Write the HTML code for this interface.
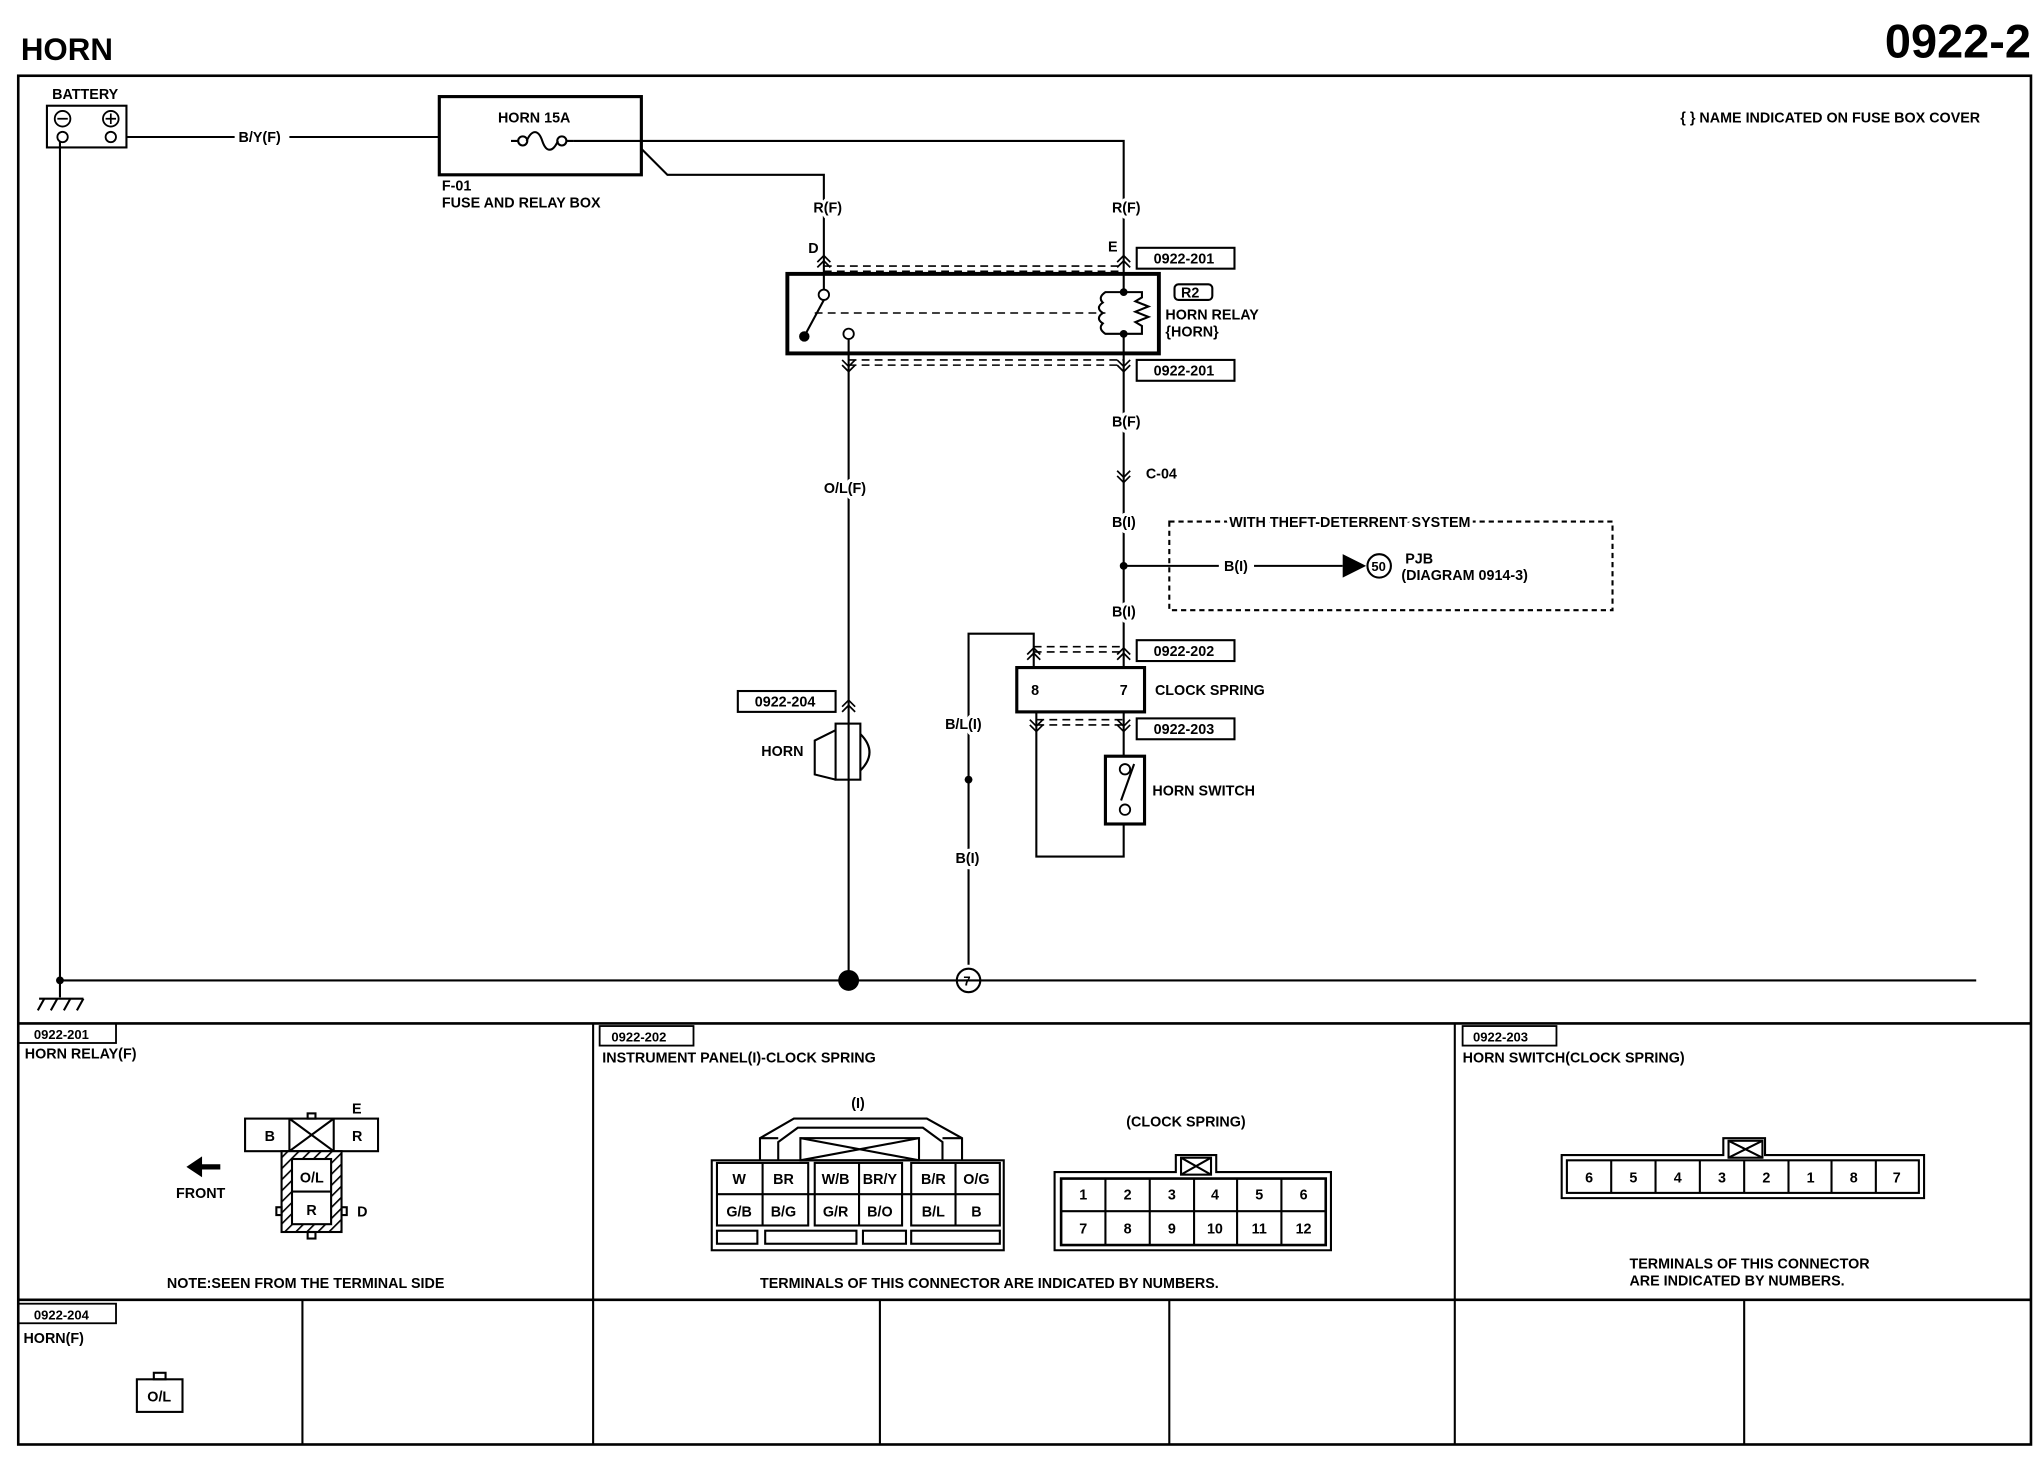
<!DOCTYPE html>
<html><head><meta charset="utf-8"><style>
html,body{margin:0;padding:0;background:#fff}
svg{display:block}
text{font-family:"Liberation Sans",sans-serif;font-weight:bold;fill:#000}
text.m{stroke:#fff;stroke-width:5px;paint-order:stroke;stroke-linejoin:round}
</style></head><body>
<svg width="2044" height="1472" viewBox="0 0 1568 1129" xmlns="http://www.w3.org/2000/svg">
<defs>
<g id="cu"><path d="M-5,5 L0,0 L5,5 M-5,9 L0,4 L5,9" fill="none" stroke="#000" stroke-width="1.3"/></g>
<g id="cd"><path d="M-5,-5 L0,0 L5,-5 M-5,-9 L0,-4 L5,-9" fill="none" stroke="#000" stroke-width="1.3"/></g>
<pattern id="hat" width="6" height="6" patternUnits="userSpaceOnUse" patternTransform="rotate(45)"><rect width="6" height="6" fill="#fff"/><line x1="0" y1="0" x2="0" y2="6" stroke="#000" stroke-width="2.5"/></pattern>
</defs>
<text x="16" y="46" font-size="24">HORN</text>
<text x="1558" y="44" font-size="36" text-anchor="end">0922-2</text>
<g fill="none" stroke="#000" stroke-width="1.6">
<rect x="14" y="58" width="1544" height="1050" stroke-width="2"/>
<line x1="14" y1="785" x2="1558" y2="785" stroke-width="2"/>
<line x1="14" y1="997" x2="1558" y2="997" stroke-width="2"/>
<line x1="455" y1="785" x2="455" y2="1108"/>
<line x1="1116" y1="785" x2="1116" y2="1108"/>
<line x1="232" y1="997" x2="232" y2="1108"/>
<line x1="675" y1="997" x2="675" y2="1108"/>
<line x1="897" y1="997" x2="897" y2="1108"/>
<line x1="1338" y1="997" x2="1338" y2="1108"/>
<line x1="46" y1="752" x2="1516" y2="752"/>
<line x1="46" y1="103" x2="46" y2="765"/>
<line x1="30" y1="766" x2="64" y2="766"/>
<path d="M34,766 l-5,9 M44,766 l-5,9 M54,766 l-5,9 M64,766 l-5,9"/>
<rect x="36" y="81" width="61" height="32"/>
<line x1="97" y1="105" x2="180" y2="105"/><line x1="222" y1="105" x2="337" y2="105"/>
<rect x="337" y="74" width="155" height="60" stroke-width="2.4"/>
<path d="M392,108 h6 M434,108 h6"/>
<circle cx="401" cy="108" r="3.5"/><circle cx="431" cy="108" r="3.5"/>
<path d="M404,108 c4,-9 9,-9 12,0 c3,9 8,9 12,0"/>
<path d="M440,108 H862 V210"/>
<path d="M492,114 L512,134 H632 V210"/>
<rect x="604" y="210" width="285" height="61" stroke-width="3"/>
<line x1="632" y1="210" x2="632" y2="222"/>
<line x1="632" y1="230" x2="618" y2="256"/>
<line x1="651" y1="260" x2="651" y2="271"/>
<line x1="862" y1="210" x2="862" y2="224"/>
<path d="M862,224 H876 l0,4 l-5,3 l10,4 l-10,4 l10,4 l-10,4 l5,3 V256 H862"/>
<path d="M862,224 H848 q-6,4 -2,8 q-6,4 0,8 q-6,4 0,8 q-4,4 2,8 H862"/>
<line x1="862" y1="256" x2="862" y2="271"/>
<path d="M632,204 H862 M632,208 H862 M651,276 H862 M651,280 H862 M625,240 H848" stroke-dasharray="6,4" stroke-width="1.2"/>
<rect x="872" y="190" width="75" height="16"/>
<rect x="872" y="276" width="75" height="16"/>
<rect x="901" y="218" width="29" height="12" rx="3"/>
<line x1="651" y1="271" x2="651" y2="752"/>
<line x1="862" y1="271" x2="862" y2="512"/>
<rect x="897" y="400" width="340" height="68" stroke-dasharray="4,3"/>
<line x1="862" y1="434" x2="935" y2="434"/><line x1="962" y1="434" x2="1030" y2="434"/>
<circle cx="1058" cy="434" r="9"/>
<rect x="780" y="512" width="98" height="34" stroke-width="2.4"/>
<path d="M793,496 H862 M793,500 H862 M795,552 H862 M795,556 H862" stroke-dasharray="6,4" stroke-width="1.2"/>
<rect x="872" y="491" width="75" height="16"/>
<rect x="872" y="551" width="75" height="16"/>
<path d="M743,740 V486 H793 V512"/>
<path d="M795,546 V657 H862 V632"/>
<line x1="862" y1="546" x2="862" y2="580"/>
<rect x="848" y="580" width="30" height="52" stroke-width="2.4"/>
<line x1="860" y1="614" x2="870" y2="586"/>
<circle cx="743" cy="752" r="9"/>
<rect x="566" y="530" width="75" height="16"/>
<rect x="641" y="555" width="19" height="43"/>
<path d="M641,560 L625,568 V594 L641,598"/>
<path d="M660,563 q14,14 0,28"/>
</g>
<g fill="#000">
<circle cx="46" cy="752" r="3"/><circle cx="651" cy="752" r="8"/>
<circle cx="617" cy="258" r="4"/><circle cx="862" cy="224" r="3"/><circle cx="862" cy="256" r="3"/>
<circle cx="862" cy="434" r="3"/><circle cx="743" cy="598" r="3"/>
<path d="M1030,425 L1048,434 L1030,443Z"/>
</g>
<g fill="#fff" stroke="#000" stroke-width="1.4">
<circle cx="48" cy="91" r="6"/><circle cx="85" cy="91" r="6"/>
<circle cx="48" cy="105" r="4"/><circle cx="85" cy="105" r="4"/>
<circle cx="632" cy="226" r="4"/><circle cx="651" cy="256" r="4"/>
<circle cx="863" cy="590" r="4"/><circle cx="863" cy="621" r="4"/>
</g>
<path d="M44,91h8M81,91h8M85,87v8" stroke="#000" stroke-width="1.3"/>
<use href="#cu" x="632" y="196"/><use href="#cu" x="862" y="196"/>
<use href="#cd" x="651" y="285"/><use href="#cd" x="862" y="285"/>
<use href="#cd" x="862" y="370"/>
<use href="#cu" x="793" y="497"/><use href="#cu" x="862" y="497"/>
<use href="#cd" x="795" y="561"/><use href="#cd" x="862" y="561"/>
<use href="#cu" x="651" y="537"/>
<g font-size="11">
<text x="40" y="76">BATTERY</text>
<text x="183" y="109" class="m">B/Y(F)</text>
<text x="382" y="94">HORN 15A</text>
<text x="339" y="146">F-01</text><text x="339" y="159">FUSE AND RELAY BOX</text>
<text x="624" y="163" class="m">R(F)</text><text x="853" y="163" class="m">R(F)</text>
<text x="620" y="194">D</text><text x="850" y="193">E</text>
<text x="885" y="202">0922-201</text><text x="885" y="288">0922-201</text>
<text x="906" y="228">R2</text>
<text x="894" y="245">HORN RELAY</text><text x="894" y="258">{HORN}</text>
<text x="853" y="327" class="m">B(F)</text><text x="879" y="367">C-04</text>
<text x="632" y="378" class="m">O/L(F)</text>
<text x="853" y="404" class="m">B(I)</text><text x="853" y="473" class="m">B(I)</text>
<text x="939" y="438" class="m">B(I)</text>
<text x="943" y="404" class="m">WITH THEFT-DETERRENT SYSTEM</text>
<text x="1052" y="438" font-size="10">50</text>
<text x="1078" y="432">PJB</text><text x="1075" y="445">(DIAGRAM 0914-3)</text>
<text x="1289" y="94">{ }  NAME INDICATED ON FUSE BOX COVER</text>
<text x="885" y="503">0922-202</text><text x="885" y="563">0922-203</text>
<text x="791" y="533">8</text><text x="859" y="533">7</text>
<text x="886" y="533">CLOCK SPRING</text>
<text x="884" y="610">HORN SWITCH</text>
<text x="725" y="559" class="m">B/L(I)</text><text x="733" y="662" class="m">B(I)</text>
<text x="579" y="542">0922-204</text>
<text x="584" y="580">HORN</text>
<text x="739" y="756" font-size="10">7</text>
<text x="19" y="812">HORN RELAY(F)</text>
<text x="462" y="815">INSTRUMENT PANEL(I)-CLOCK SPRING</text>
<text x="1122" y="815">HORN SWITCH(CLOCK SPRING)</text>
<text x="18" y="1030">HORN(F)</text>
<text x="128" y="988">NOTE:SEEN FROM THE TERMINAL SIDE</text>
<text x="583" y="988">TERMINALS OF THIS CONNECTOR ARE INDICATED BY NUMBERS.</text>
<text x="1250" y="973">TERMINALS OF THIS CONNECTOR</text>
<text x="1250" y="986">ARE INDICATED BY NUMBERS.</text>
<text x="864" y="864">(CLOCK SPRING)</text>
<text x="653" y="850">(I)</text>
<text x="135" y="919">FRONT</text>
</g>
<g fill="none" stroke="#000" stroke-width="1.4">
<rect x="14" y="785" width="75" height="15"/>
<rect x="460" y="787" width="72" height="15"/>
<rect x="1122" y="787" width="72" height="15"/>
<rect x="14" y="1000" width="75" height="15"/>
</g>
<g font-size="10"><text x="26" y="797">0922-201</text><text x="469" y="799">0922-202</text><text x="1130" y="799">0922-203</text><text x="26" y="1012">0922-204</text></g>
<path d="M145,893 h10 v-6 l-12,8 12,8 v-6 h14 v-4z" fill="#000"/>
<g fill="none" stroke="#000" stroke-width="1.6">
<rect x="188" y="858" width="102" height="25"/>
<line x1="222" y1="858" x2="222" y2="883"/><line x1="256" y1="858" x2="256" y2="883"/>
<path d="M222,858 L256,883 M256,858 L222,883"/>
<rect x="236" y="854" width="6" height="4"/>
<rect x="216" y="883" width="46" height="62" fill="url(#hat)"/>
<rect x="224" y="889" width="30" height="50" fill="#fff"/>
<line x1="224" y1="914" x2="254" y2="914"/>
<rect x="212" y="926" width="4" height="6"/><rect x="262" y="926" width="4" height="6"/>
<rect x="236" y="945" width="6" height="5"/>
</g>
<g font-size="11"><text x="203" y="875">B</text><text x="270" y="875">R</text><text x="270" y="854">E</text>
<text x="230" y="907">O/L</text><text x="235" y="932">R</text><text x="274" y="933">D</text></g>
<g fill="none" stroke="#000" stroke-width="1.6">
<rect x="546" y="890" width="224" height="69"/>
<path d="M583,890 V873 L609,858 H711 L738,873 V890"/>
<path d="M597,890 V876 L612,865 H708 L723,876 V890"/>
<path d="M583,873 h14 M723,873 h15"/>
<rect x="614" y="873" width="91" height="17"/>
<path d="M614,873 L705,890 M705,873 L614,890"/>
<rect x="550" y="892" width="70" height="48"/><rect x="625" y="892" width="67" height="48"/><rect x="699" y="892" width="68" height="48"/>
<line x1="550" y1="916" x2="767" y2="916"/>
<line x1="585" y1="892" x2="585" y2="940"/><line x1="659" y1="892" x2="659" y2="940"/><line x1="733" y1="892" x2="733" y2="940"/>
<rect x="550" y="944" width="31" height="10"/><rect x="587" y="944" width="70" height="10"/><rect x="662" y="944" width="33" height="10"/><rect x="699" y="944" width="68" height="10"/>
</g>
<g font-size="11" text-anchor="middle">
<text x="567" y="908">W</text><text x="601" y="908">BR</text><text x="641" y="908">W/B</text><text x="675" y="908">BR/Y</text><text x="716" y="908">B/R</text><text x="749" y="908">O/G</text>
<text x="567" y="933">G/B</text><text x="601" y="933">B/G</text><text x="641" y="933">G/R</text><text x="675" y="933">B/O</text><text x="716" y="933">B/L</text><text x="749" y="933">B</text>
</g>
<g fill="none" stroke="#000" stroke-width="1.6">
<path d="M809,899 H902 V886 H933 V899 H1021 V959 H809Z"/>
<rect x="906" y="888" width="23" height="13"/><path d="M906,888 L929,901 M929,888 L906,901"/>
<rect x="814" y="904" width="203" height="51" stroke-width="2"/>
<line x1="814" y1="929" x2="1017" y2="929"/>
<path d="M848,904v51M882,904v51M916,904v51M949,904v51M983,904v51"/>
</g>
<g font-size="11" text-anchor="middle">
<text x="831" y="920">1</text><text x="865" y="920">2</text><text x="899" y="920">3</text><text x="932" y="920">4</text><text x="966" y="920">5</text><text x="1000" y="920">6</text>
<text x="831" y="946">7</text><text x="865" y="946">8</text><text x="899" y="946">9</text><text x="932" y="946">10</text><text x="966" y="946">11</text><text x="1000" y="946">12</text>
</g>
<g fill="none" stroke="#000" stroke-width="1.6">
<path d="M1198,886 H1322 V873 H1354 V886 H1476 V919 H1198Z"/>
<rect x="1326" y="875" width="26" height="13"/><path d="M1326,875 L1352,888 M1352,875 L1326,888"/>
<rect x="1202" y="890" width="270" height="25"/>
<path d="M1236,890v25M1270,890v25M1304,890v25M1338,890v25M1372,890v25M1405,890v25M1439,890v25"/>
</g>
<g font-size="11" text-anchor="middle">
<text x="1219" y="907">6</text><text x="1253" y="907">5</text><text x="1287" y="907">4</text><text x="1321" y="907">3</text><text x="1355" y="907">2</text><text x="1389" y="907">1</text><text x="1422" y="907">8</text><text x="1455" y="907">7</text>
</g>
<g fill="none" stroke="#000" stroke-width="1.6">
<rect x="105" y="1058" width="35" height="25"/><rect x="118" y="1053" width="9" height="5"/>
</g>
<text x="113" y="1075" font-size="11">O/L</text>
</svg>
</body></html>
